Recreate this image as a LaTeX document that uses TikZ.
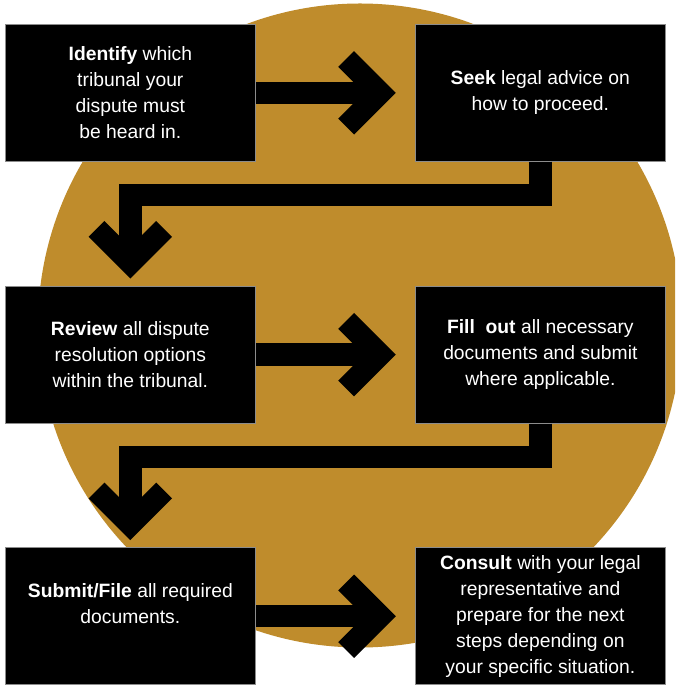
\documentclass[tikz,border=0pt]{standalone}
\usepackage{fontspec}
\setmainfont{Liberation Sans}
\usetikzlibrary{calc}
\definecolor{ochre}{RGB}{191,140,44}

\begin{document}
\begin{tikzpicture}
  [x=1pt,y=1pt,
    stepbox/.style={draw=black!45,line width=0.75pt,fill=black,text=white,
      minimum width=250.7pt,minimum height=137pt,inner sep=0pt,align=center,
      font=\fontsize{19.3}{26}\selectfont},
    shaft/.style={line width=22.4pt,line join=miter},
    chev/.style={line width=22.4pt,line join=miter},
]

  \useasboundingbox (0,0) rectangle (675,685);

  % backdrop
  \begin{scope}
    \clip (0,0) rectangle (675,685);
    \fill[ochre] (360,359.5) circle (322);
  \end{scope}

  \node[stepbox] (identify) at (130.35,592.2)
    {\textbf{Identify} which\\ tribunal your\\ dispute must\\ be heard in.};
  \node[stepbox] (seek) at (540.35,592.2)
    {\textbf{Seek} legal advice on\\ how to proceed.};
  \node[stepbox] (review) at (130.35,330.3)
    {\textbf{Review} all dispute\\ resolution options\\ within the tribunal.};
  \node[stepbox] (fill) at (540.35,330.3)
    {\textbf{Fill\ \ out} all necessary\\ documents and submit\\ where applicable.};
  \node[stepbox] (submit) at (130.35,68.75)
    {\textbf{Submit/File} all required\\ documents.\\ ~};
  \node[stepbox] (consult) at (540.35,68.75)
    {\textbf{Consult} with your legal\\ representative and\\ prepare for the next\\ steps depending on\\ your specific situation.};

  % tips of the arrows
  \coordinate (t1) at ([xshift=-34.7pt]seek.west);
  \coordinate (t2) at ([yshift=23.1pt]review.north);
  \coordinate (t3) at ([xshift=-34.7pt]fill.west);
  \coordinate (t4) at ([yshift=23.1pt]submit.north);
  \coordinate (t5) at ([xshift=-34.7pt]consult.west);

  \draw[shaft] (identify.east) -- (t1);
  \draw[chev] ($(t1)+(-33.8,33.8)$) -- (t1) -- ($(t1)+(-33.8,-33.8)$);

  \draw[shaft] (seek.south) -- ++(0,-33.6) -| (t2);
  \draw[chev] ($(t2)+(-33.8,33.8)$) -- (t2) -- ($(t2)+(33.8,33.8)$);

  \draw[shaft] (review.east) -- (t3);
  \draw[chev] ($(t3)+(-33.8,33.8)$) -- (t3) -- ($(t3)+(-33.8,-33.8)$);

  \draw[shaft] (fill.south) -- ++(0,-33.6) -| (t4);
  \draw[chev] ($(t4)+(-33.8,33.8)$) -- (t4) -- ($(t4)+(33.8,33.8)$);

  \draw[shaft] (submit.east) -- (t5);
  \draw[chev] ($(t5)+(-33.8,33.8)$) -- (t5) -- ($(t5)+(-33.8,-33.8)$);

\end{tikzpicture}
\end{document}
